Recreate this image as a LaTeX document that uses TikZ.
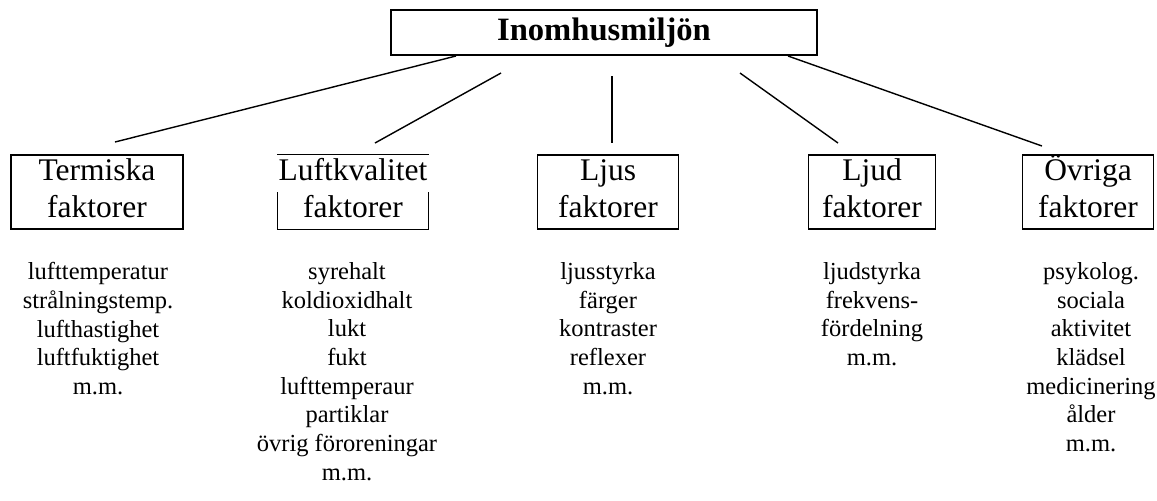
\documentclass[tikz,border=0pt]{standalone}
\usepackage{fontspec}
\setmainfont{Liberation Serif}
\begin{document}
\begin{tikzpicture}[x=0.5pt,y=-0.5pt,
  rule/.style={line width=0.7pt},
  topbox/.style={draw, rule, minimum width=213pt, minimum height=22.5pt, inner sep=0pt,
    font=\fontsize{16.3}{19}\selectfont\bfseries},
  catbox/.style={draw, rule, minimum height=37pt, inner sep=0pt, align=center,
    font=\fontsize{15.75}{18.5}\selectfont},
  catopen/.style={catbox, draw=none},
  itemlist/.style={anchor=north, inner sep=0pt, align=center,
    font=\fontsize{12.25}{14.35}\selectfont},
  link/.style={rule}
]
\useasboundingbox (0,0) rectangle (1157,500);

% root
\node[topbox] (root) at (604,32.5) {Inomhusmiljön};

% factor groups (struts keep both lines on the same baselines in every box)
\node[catbox, minimum width=86pt]   (term) at (97,192)   {\strut Termiska\\\strut faktorer};
\node[catopen, minimum width=75pt]  (luft) at (353,192)  {\strut Luftkvalitet\\\strut faktorer};
\node[catbox, minimum width=70.5pt] (ljus) at (608,192)  {\strut Ljus\\\strut faktorer};
\node[catbox, minimum width=63.5pt] (ljud) at (872,192)  {\strut Ljud\\\strut faktorer};
\node[catbox, minimum width=65.5pt] (ovr)  at (1088,192) {\strut Övriga\\\strut faktorer};

% the wide title covers the upper half of the side lines
\draw[rule] (luft.north west) -- (luft.north east);
\draw[rule] (luft.west) -- (luft.south west) -- (luft.south east) -- (luft.east);

% connector end points
\coordinate (r1) at (456,56);  \coordinate (c1) at (115,142);
\coordinate (r2) at (501,73);  \coordinate (c2) at (375,143);
\coordinate (r3) at (612,76);  \coordinate (c3) at (612,143);
\coordinate (r4) at (740,73);  \coordinate (c4) at (838,143);
\coordinate (r5) at (788,56);  \coordinate (c5) at (1042,146);
\draw[link] (r1) -- (c1);
\draw[link] (r2) -- (c2);
\draw[link] (r3) -- (c3);
\draw[link] (r4) -- (c4);
\draw[link] (r5) -- (c5);

% item lists
\node[itemlist] (lterm) at (98,262) {lufttemperatur\\strålningstemp.\\lufthastighet\\luftfuktighet\\m.m.};
\node[itemlist] (lluft) at (347,262) {syrehalt\\koldioxidhalt\\lukt\\fukt\\lufttemperaur\\partiklar\\övrig föroreningar\\m.m.};
\node[itemlist] (lljus) at (608,262) {ljusstyrka\\färger\\kontraster\\reflexer\\m.m.};
\node[itemlist] (lljud) at (872,262) {ljudstyrka\\frekvens-\\fördelning\\m.m.};
\node[itemlist] (lovr)  at (1091,262) {psykolog.\\sociala\\aktivitet\\klädsel\\medicinering\\ålder\\m.m.};
\end{tikzpicture}
\end{document}
